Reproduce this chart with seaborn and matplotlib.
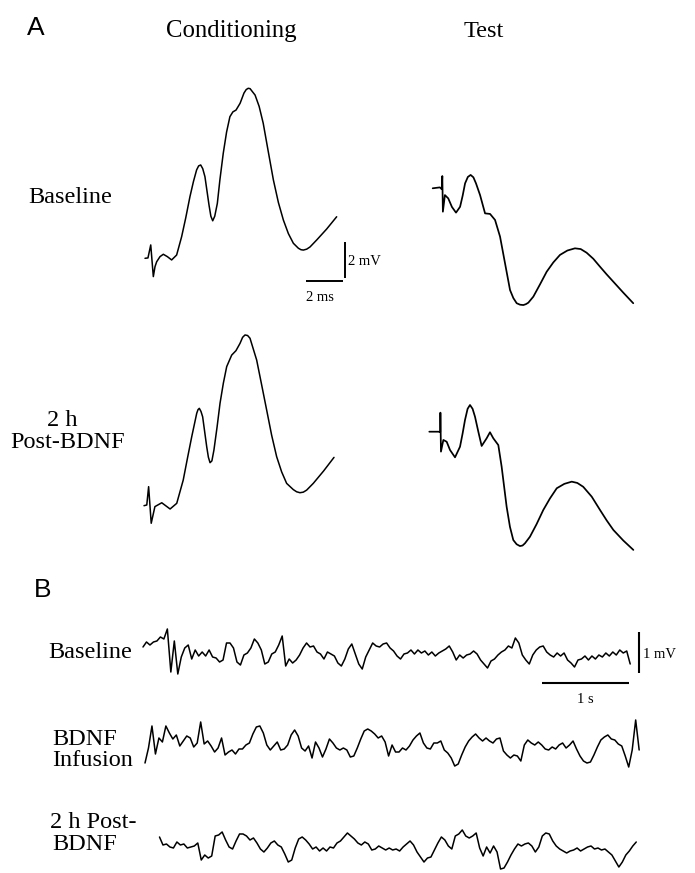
import numpy as np
import matplotlib
matplotlib.use("Agg")
import matplotlib.pyplot as plt
import seaborn as sns

# ---------------- data ----------------
# Panel A: evoked field potentials, time in ms, amplitude in mV
cond_base_t = [0, 0.16, 0.31, 0.45, 0.54, 0.63, 0.81, 0.99, 1.21, 1.44, 1.71, 1.98, 2.20, 2.43, 2.62,
               2.79, 2.90, 3.01, 3.12, 3.24, 3.46, 3.56, 3.66, 3.77, 3.91, 4.05, 4.23, 4.41, 4.59,
               4.75, 4.92, 5.14, 5.35, 5.47, 5.58, 5.68, 5.78, 5.95, 6.17, 6.39, 6.66, 6.94, 7.21,
               7.48, 7.75, 8.02, 8.29, 8.43, 8.56, 8.74, 8.92, 9.28, 9.82, 10.36]
cond_base_v = [0, 0.02, 0.73, -1.0, -0.46, -0.19, 0.09, 0.22, 0.09, -0.09, 0.18, 1.18, 2.2, 3.37, 4.2,
               4.83, 5.05, 5.10, 4.90, 4.46, 2.91, 2.3, 2.05, 2.3, 3.0, 4.3, 5.74, 6.9, 7.74,
               8.0, 8.10, 8.47, 9.03, 9.22, 9.29, 9.27, 9.14, 8.92, 8.3, 7.38, 5.85, 4.28, 3.05,
               2.09, 1.35, 0.82, 0.55, 0.47, 0.45, 0.50, 0.62, 1.0, 1.6, 2.27]

cond_post_t = [0, 0.15, 0.25, 0.39, 0.59, 0.96, 1.41, 1.77, 2.12, 2.35, 2.58, 2.85, 2.92, 2.99, 3.08,
               3.17, 3.39, 3.48, 3.57, 3.67, 3.78, 3.95, 4.11, 4.29, 4.47, 4.74, 4.97, 5.19, 5.33,
               5.46, 5.60, 5.73, 6.09, 6.36, 6.63, 6.90, 7.17, 7.44, 7.71, 8.07, 8.25, 8.43, 8.61,
               8.79, 9.15, 9.71, 10.27]
cond_post_v = [0, 0.04, 1.04, -0.96, -0.05, 0.16, -0.18, 0.13, 1.40, 2.6, 3.77, 5.05, 5.25, 5.32, 5.15,
               4.86, 3.22, 2.65, 2.35, 2.45, 3.04, 4.3, 5.60, 6.7, 7.60, 8.23, 8.47, 8.87, 9.2,
               9.33, 9.3, 9.15, 7.96, 6.6, 5.23, 3.85, 2.68, 1.85, 1.22, 0.88, 0.76, 0.71, 0.74,
               0.85, 1.22, 1.9, 2.64]

test_base_t = [0, 0.39, 0.49, 0.52, 0.55, 0.66, 0.84, 1.04, 1.26, 1.48, 1.62, 1.75, 1.90, 2.05, 2.20,
               2.34, 2.56, 2.83, 3.10, 3.37, 3.64, 3.91, 4.18, 4.36, 4.54, 4.72, 4.90, 5.04, 5.17,
               5.44, 5.80, 6.16, 6.52, 6.88, 7.28, 7.69, 8.00, 8.32, 8.68, 9.04, 9.40, 9.76, 10.30,
               10.84]
test_base_v = [0, 0.05, -0.05, 0.67, -1.28, -0.37, -0.55, -1.02, -1.33, -1.01, -0.4, 0.27, 0.62, 0.73, 0.6,
               0.27, -0.37, -1.37, -1.40, -1.73, -2.64, -4.10, -5.56, -6.0, -6.28, -6.36, -6.38, -6.33, -6.25,
               -5.92, -5.25, -4.56, -4.05, -3.64, -3.40, -3.28, -3.32, -3.52, -3.85, -4.28, -4.70, -5.10, -5.70,
               -6.28]

test_post_t = [0, 0.49, 0.59, 0.60, 0.63, 0.76, 0.94, 1.12, 1.39, 1.66, 1.80, 1.93, 2.07, 2.20, 2.34,
               2.47, 2.65, 2.83, 3.10, 3.28, 3.46, 3.73, 3.91, 4.18, 4.36, 4.54, 4.72, 4.90, 5.04,
               5.17, 5.44, 5.80, 6.16, 6.52, 6.89, 7.30, 7.70, 8.00, 8.32, 8.78, 9.23, 9.59, 9.95,
               10.49, 11.03]
test_post_v = [0, 0, -0.02, 1.04, -1.09, -0.45, -0.55, -1.0, -1.40, -0.82, -0.1, 0.64, 1.25, 1.46, 1.25,
               0.82, 0.0, -0.78, -0.36, -0.03, -0.36, -0.73, -1.91, -4.10, -5.2, -5.92, -6.15, -6.25, -6.22,
               -6.1, -5.74, -5.05, -4.28, -3.65, -3.09, -2.85, -2.73, -2.80, -3.01, -3.55, -4.28, -4.85, -5.37,
               -5.95, -6.46]

# Panel B: EEG, sampled every 0.04 s, amplitude in microvolts
eeg_dt = 0.04
eeg_base_uv = [120, 240, 168, 240, 264, 360, 312, 552, -480, 264, -528, -120, 96, 168, -168, 48, -96, 0, -96, 48,
               -120, -144, -240, -192, 216, 216, 96, -240, -312, -72, -24, 96, 312, 216, 48, -288, -240, -48, 0, 168,
               384, -336, -168, -264, -192, -72, 96, 216, 120, 144, 0, -48, -168, 0, -48, -96, -264, -336, -168, 72,
               192, -48, -288, -408, -120, 48, 216, 144, 120, 192, 216, 96, 24, -96, -168, -48, -24, 48, -48, 48,
               -24, 24, -72, 0, -96, -24, 24, 72, 144, 0, -192, -72, -144, -72, -48, 24, -48, -192, -288, -384,
               -216, -168, -72, 0, 48, 144, 96, 336, 216, -72, -192, -288, -72, 48, 120, 144, 0, -72, -120, -24,
               -96, -24, -192, -264, -360, -192, -168, -96, -192, -96, -168, -72, -120, -24, -96, 0, -72, 48, -24, 24,
               -288]
eeg_bdnf_uv = [-432, -72, 456, -216, 168, 72, 456, 288, 144, 240, -24, 96, 216, 168, -48, 48, 552, 24, 96, -24,
               -168, -72, 168, -240, -168, -120, -216, -96, -96, 0, 48, 264, 432, 456, 288, 0, -120, -24, 72, -120,
               -96, 0, 240, 360, 216, -72, -144, -24, -312, 72, -72, -288, -96, 144, 48, -72, -120, -72, -120, -288,
               -264, -72, 144, 336, 384, 336, 264, 168, 216, 72, -264, 0, -168, -168, -72, -120, -24, 120, 216, 288,
               48, -72, -96, 48, 48, 96, -120, -192, -312, -504, -456, -240, -48, 96, 192, 264, 168, 96, 168, 96,
               48, 144, 168, -144, -240, -312, -240, -264, -384, 0, 120, 48, 0, 72, 0, -96, -120, -48, -96, 0,
               48, -72, 0, 96, -96, -264, -384, -432, -408, -240, -48, 120, 192, 240, 144, 120, 24, -24, -264, -528,
               -120, 600, -120]
eeg_post_uv = [216, 24, 48, -24, -48, 96, 24, 48, -48, -24, 0, 72, -336, -216, -288, -240, 240, 264, 336, 144,
               -24, -72, 120, 288, 288, 240, 144, 192, 72, -72, -144, -48, 72, 120, 24, -24, -192, -384, -336, -48,
               168, 216, 144, 48, -72, -24, -120, -48, -120, -24, -48, 72, 120, 216, 312, 240, 168, 72, 24, 96,
               48, -96, -72, 0, -48, -96, -48, -96, -72, -120, -24, 48, 120, 24, -144, -264, -384, -288, -264, -96,
               72, 216, 144, 0, -72, 240, 288, 384, 240, 192, 240, 312, -48, -240, -24, -168, 0, -144, -552, -528,
               -384, -216, -72, 48, 0, 48, 72, 0, -144, -24, 240, 312, 288, 120, 0, -72, -120, -168, -120, -96,
               -48, -120, -72, -24, 0, -72, -48, -96, -72, -144, -216, -360, -504, -384, -216, -120, 0, 96]

row_labels_a = ["Baseline", "2 h\nPost-BDNF"]
col_labels_a = ["Conditioning", "Test"]
row_labels_b = ["Baseline", "BDNF\nInfusion", "2 h Post-\nBDNF"]

# ---------------- figure ----------------
sns.set_theme(style="white")
plt.rcParams["font.family"] = ["Liberation Serif", "DejaVu Serif"]
plt.rcParams["text.color"] = "black"

W, H = 695, 873
fig = plt.figure(figsize=(W / 100, H / 100), dpi=100)
fig.patch.set_facecolor("white")


def trace_axes(x0, y0, sx, sy):
    """Full-figure transparent axes whose data origin sits at pixel (x0, y0)."""
    ax = fig.add_axes([0, 0, 1, 1])
    ax.set_xlim(-x0 / sx, (W - x0) / sx)
    ax.set_ylim((y0 - H) / sy, y0 / sy)
    ax.axis("off")
    ax.patch.set_alpha(0)
    return ax


def draw(ax, t, v, lw):
    sns.lineplot(x=t, y=v, ax=ax, color="black", lw=lw, estimator=None,
                 sort=False, legend=False)


def ftext(x, y, s, **kw):
    fig.text(x / W, 1 - y / H, s, color="black", **kw)


# Panel A scales: px per ms and px per mV
SX_A, SY_A = 18.5, 18.3
ax_cb = trace_axes(145, 258.3, SX_A, SY_A)
draw(ax_cb, cond_base_t, cond_base_v, 1.1)
ax_cp = trace_axes(144, 505.7, SX_A, SY_A)
draw(ax_cp, cond_post_t, cond_post_v, 1.1)
ax_tb = trace_axes(432.7, 188.3, SX_A, SY_A)
draw(ax_tb, test_base_t, test_base_v, 1.25)
ax_tp = trace_axes(429.3, 431.7, SX_A, SY_A)
draw(ax_tp, test_post_t, test_post_v, 1.25)

# scale bars of panel A (2 ms, 2 mV)
ax_cb.plot([10.81, 10.81], [-1.09, 0.91], color="black", lw=1.4, solid_capstyle="butt")
ax_cb.plot([8.70, 10.70], [-1.224, -1.224], color="black", lw=1.4, solid_capstyle="butt")
ax_cb.text(10.95, -0.37, "2 mV", fontsize=10.5, ha="left", va="baseline", color="black")
ax_cb.text(8.70, -2.33, "2 ms", fontsize=10.5, ha="left", va="baseline", color="black")

# Panel B scales: px per s and px per mV
SX_B, SY_B = 87.0, 41.7
ax_eb = trace_axes(143, 652, SX_B, SY_B)
draw(ax_eb, np.arange(len(eeg_base_uv)) * eeg_dt, np.array(eeg_base_uv) / 1000, 1.1)
ax_ei = trace_axes(145, 745, SX_B, SY_B)
draw(ax_ei, np.arange(len(eeg_bdnf_uv)) * eeg_dt, np.array(eeg_bdnf_uv) / 1000, 1.1)
ax_ep = trace_axes(159.5, 846, SX_B, SY_B)
draw(ax_ep, np.arange(len(eeg_post_uv)) * eeg_dt, np.array(eeg_post_uv) / 1000, 1.1)

# scale bars of panel B (1 s, 1 mV)
ax_eb.plot([5.705, 5.705], [-0.511, 0.489], color="black", lw=1.5, solid_capstyle="butt")
ax_eb.plot([4.583, 5.583], [-0.736, -0.736], color="black", lw=1.5, solid_capstyle="butt")
ax_eb.text(5.75, -0.15, "1 mV", fontsize=10.5, ha="left", va="baseline", color="black")
ax_eb.text(5.083, -1.22, "1 s", fontsize=10.5, ha="center", va="baseline", color="black")

# ---------------- text ----------------
sans = ["Liberation Sans", "DejaVu Sans"]
ftext(27, 35, "A", fontsize=19, family=sans, ha="left", va="baseline")
ftext(34, 597, "B", fontsize=19, family=sans, ha="left", va="baseline")

ftext(231, 37, col_labels_a[0], fontsize=17.8, ha="center", va="baseline")
ftext(484, 37, col_labels_a[1], fontsize=17.5, ha="center", va="baseline")

ftext(28.5, 203, row_labels_a[0], fontsize=17.5, ha="left", va="baseline")
l1, l2 = row_labels_a[1].split("\n")
ftext(62, 426, l1, fontsize=17.5, ha="center", va="baseline")
ftext(68, 448, l2, fontsize=17.5, ha="center", va="baseline")

ftext(48, 658, row_labels_b[0], fontsize=17.5, ha="left", va="baseline")
b1, b2 = row_labels_b[1].split("\n")
ftext(52, 745, b1, fontsize=17.5, ha="left", va="baseline")
ftext(52, 766, b2, fontsize=17.5, ha="left", va="baseline")
c1, c2 = row_labels_b[2].split("\n")
ftext(50, 828, c1, fontsize=17.5, ha="left", va="baseline")
ftext(52, 850, c2, fontsize=17.5, ha="left", va="baseline")

fig.savefig("out.png", dpi=100, facecolor="white")
